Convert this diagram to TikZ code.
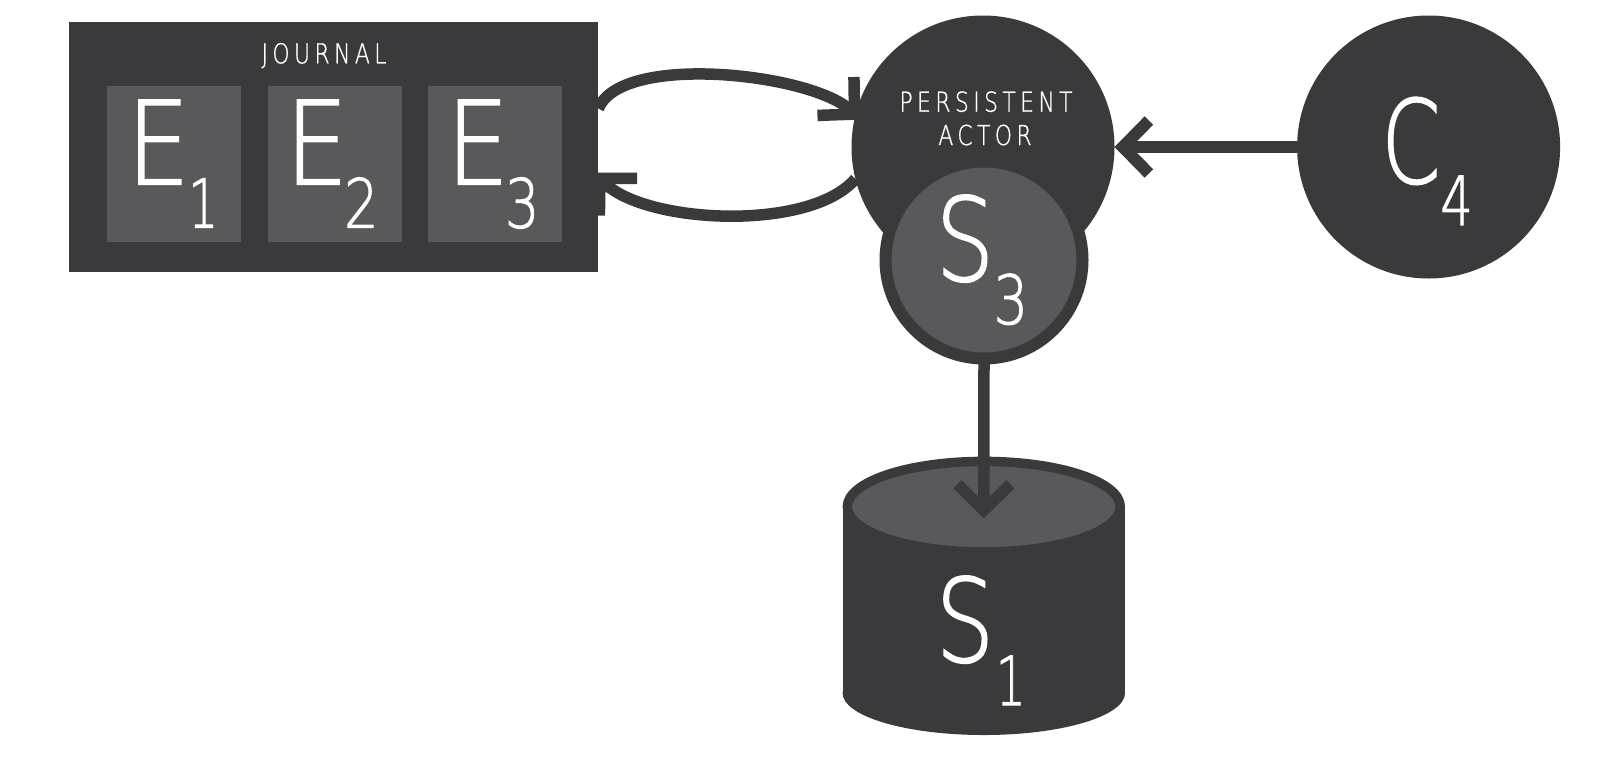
\documentclass[tikz,border=0pt]{standalone}
\usepackage{fontspec}
\usetikzlibrary{arrows.meta,calc}
\newfontfamily\thinfont{DejaVu Sans ExtraLight}[FakeBold=1.5]
\newfontfamily\spacedfont{DejaVu Sans ExtraLight}[LetterSpace=20,FakeBold=1]
\definecolor{dk}{RGB}{58,58,60}
\definecolor{md}{RGB}{89,89,91}
\newcommand{\BigL}[2]{\scalebox{#1}[1]{\thinfont\fontsize{115.6pt}{116pt}\selectfont #2}}
\newcommand{\SubL}[2]{\scalebox{#1}[1]{\thinfont\fontsize{67.8pt}{68pt}\selectfont #2}}
\newcommand{\SpL}[1]{\scalebox{0.8}[1]{\spacedfont\fontsize{27.4pt}{28pt}\selectfont #1}}
\begin{document}
\begin{tikzpicture}[x=1pt,y=-1pt,
  every node/.style={inner sep=0pt, outer sep=0pt},
  darkbox/.style={rectangle, fill=dk},
  slot/.style={rectangle, fill=md, minimum width=134pt, minimum height=155.7pt},
  bigdisc/.style={circle, fill=dk, minimum size=263pt},
  letter/.style={text=white, anchor=base},
  conn/.style={draw=dk, line width=11.5pt, -{Straight Barb[length=26pt,width=53pt,sharp]}}
]
\useasboundingbox (0,0) rectangle (1600,764);
% journal
\node[darkbox, minimum width=529pt, minimum height=249.4pt] (journal) at (333.8,147) {};
\node[letter] (jtitle) at (324,63.3) {\SpL{JOURNAL}};
\node[slot] (e1box) at (173.7,163.85) {};
\node[slot] (e2box) at (334.5,163.85) {};
\node[slot] (e3box) at (495.3,163.85) {};
\node[letter] (e1) at (158.3,184.3) {\BigL{0.86}{E}};
\node[letter] (e1s) at (203.3,227.7) {\SubL{0.7}{1}};
\node[letter] (e2) at (316.7,184.3) {\BigL{0.86}{E}};
\node[letter] (e2s) at (361.3,227.7) {\SubL{0.8}{2}};
\node[letter] (e3) at (477.6,184.3) {\BigL{0.86}{E}};
\node[letter] (e3s) at (522.2,227.7) {\SubL{0.8}{3}};
% persistent actor
\node[bigdisc] (actor) at (983,147) {};
\node[letter] (pa1) at (986,111.7) {\SpL{PERSISTENT}};
\node[letter] (pa2) at (985,145) {\SpL{ACTOR}};
\node[circle, fill=md, draw=dk, line width=12pt, minimum size=197pt] (s3) at (984,260) {};
\node[letter] (s3l) at (965,280.7) {\BigL{0.8}{S}};
\node[letter] (s3s) at (1010.8,324) {\SubL{0.8}{3}};
% client
\node[bigdisc] (c4) at (1428.6,147) {};
\node[letter] (c4l) at (1411,183) {\BigL{0.73}{C}};
\node[letter] (c4s) at (1456.5,225) {\SubL{0.75}{4}};
% snapshot store cylinder
\fill[dk] (842.7,506.7) rectangle (1125,693);
\fill[dk] (983.8,693) ellipse [x radius=141.2, y radius=42];
\filldraw[fill=md, draw=dk, line width=9.5pt] (983.8,506.7) ellipse [x radius=136.45, y radius=45.3];
\coordinate (s1top) at (983.8,518.3);
\node[letter] (s1l) at (965,661.7) {\BigL{0.8}{S}};
\node[letter] (s1s) at (1010.8,705) {\SubL{0.7}{1}};
% connectors
\draw[conn] ($(journal.east)+(0,-38.5)$) .. controls (622,52) and (812,73.7) .. ([xshift=6pt]actor.168.4);
\draw[conn] (actor.194.5) .. controls (810,232) and (645,224) .. ($(journal.east)+(-4,25.7)$);
\draw[conn, line width=12pt] (c4.west) -- (actor.east);
\draw[conn] (s3.south) -- (s1top);
\end{tikzpicture}
\end{document}
